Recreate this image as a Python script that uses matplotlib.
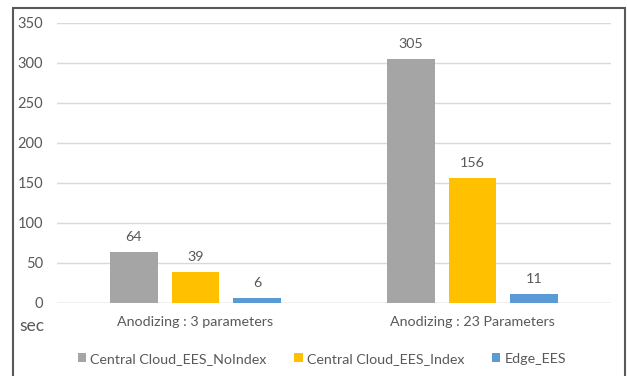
import matplotlib.pyplot as plt
import numpy as np
from matplotlib.patches import Rectangle

categories = ['Anodizing : 3 parameters', 'Anodizing : 23 Parameters']
series = ['Central Cloud_EES_NoIndex', 'Central Cloud_EES_Index', 'Edge_EES']
values = [[64, 305], [39, 156], [6, 11]]
colors = ['#a5a5a5', '#ffc000', '#5b9bd5']

plt.rcParams['font.family'] = ['Lato', 'DejaVu Sans']
txt = '#595959'

fig = plt.figure(figsize=(6.27, 3.76), dpi=100)
ax = fig.add_axes([57/627, 1 - 303/376, 554/627, 280/376])

x = np.arange(len(categories))
w = 0.173
step = 0.222
for i, (name, vals) in enumerate(zip(series, values)):
    pos = x + (i - 1) * step
    bars = ax.bar(pos, vals, w, color=colors[i], label=name, zorder=3)
    for b, v in zip(bars, vals):
        ax.text(b.get_x() + b.get_width()/2, v + 11, str(v), ha='center', va='bottom',
                fontsize=10.3, color=txt)

ax.set_xlim(-0.5, 1.5)
ax.set_ylim(0, 350)
ax.set_yticks(range(0, 351, 50))
ax.yaxis.grid(True, color='#d9d9d9', lw=1, zorder=0)
for s in ax.spines.values():
    s.set_visible(False)
ax.tick_params(axis='y', length=0, pad=10, labelsize=10.5, labelcolor=txt)
ax.tick_params(axis='x', length=0, pad=9, labelsize=10.3, labelcolor=txt)
ax.set_xticks(x)
ax.set_xticklabels(categories)
ax.axhline(0, color='#d9d9d9', lw=1, zorder=2)

fig.text(19/627, 1 - 326/376, 'sec', fontsize=12.5, color=txt, va='center', ha='left')

ax.legend(loc='center', bbox_to_anchor=(0.478, (303 - 359) / 280), ncol=3, frameon=False,
          fontsize=10.3, labelcolor=txt, handlelength=0.6, handleheight=0.6,
          handletextpad=0.3, columnspacing=1.9)

fig.patches.append(Rectangle((13/627, -0.1), 612/627, 1.1 - 8/376, transform=fig.transFigure,
                             fill=False, edgecolor='#595959', lw=1.5))

fig.savefig('out.png', dpi=100)
